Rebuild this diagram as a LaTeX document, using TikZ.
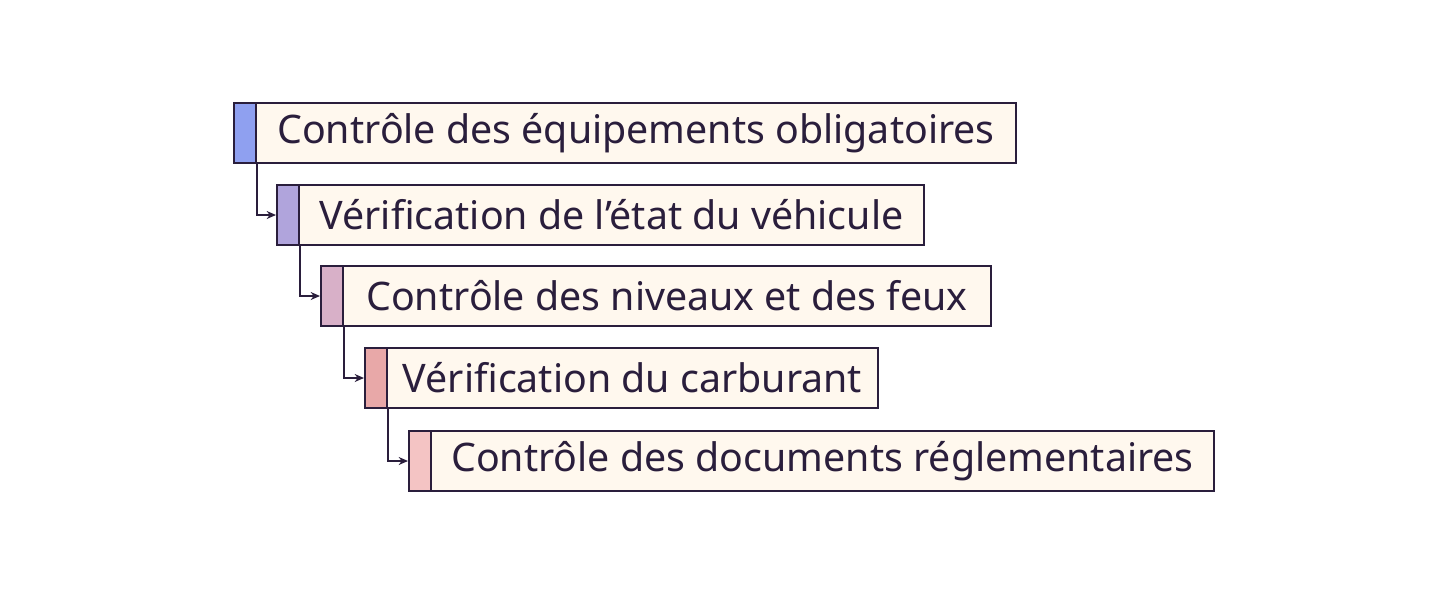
\documentclass[tikz,border=0pt]{standalone}
\usepackage{fontspec}
\setmainfont{Noto Sans}
\usetikzlibrary{positioning,arrows.meta}
\definecolor{ink}{RGB}{42,30,60}
\definecolor{cream}{RGB}{255,248,238}
\definecolor{tabA}{RGB}{143,160,240}
\definecolor{tabB}{RGB}{176,164,220}
\definecolor{tabC}{RGB}{216,176,200}
\definecolor{tabD}{RGB}{232,168,168}
\definecolor{tabE}{RGB}{244,196,196}
\begin{document}
\begin{tikzpicture}[x=0.75pt,y=-0.75pt,
    tab/.style={draw=ink,line width=1.5pt,minimum width=16.5pt,minimum height=45pt,inner sep=0pt},
    label/.style={draw=ink,line width=1.5pt,fill=cream,minimum height=45pt,inner sep=0pt,
      text=ink,font=\fontsize{29.5}{33}\selectfont,right=-1.5pt of #1},
    link/.style={draw=ink,line width=1.1pt,-{Stealth[length=7pt,width=6pt]}}]
  \useasboundingbox (0,0) rectangle (1448,607);
  % the five steps
  \node[tab,fill=tabA] (s1) at (245,133) {};
  \node[label=s1,minimum width=570pt] (c1) {Contrôle des équipements obligatoires};
  \node[tab,fill=tabB] (s2) at (288,215) {};
  \node[label=s2,minimum width=468.75pt] (c2) {Vérification de l’état du véhicule};
  \node[tab,fill=tabC] (s3) at (332,296) {};
  \node[label=s3,minimum width=486pt] (c3) {Contrôle des niveaux et des feux};
  \node[tab,fill=tabD] (s4) at (376,378) {};
  \node[label=s4,minimum width=368.25pt] (c4) {Vérification du carburant};
  \node[tab,fill=tabE] (s5) at (420,461) {};
  \node[label=s5,minimum width=587.25pt] (c5) {Contrôle des documents réglementaires};
  % links
  \draw[link] (s1.south east) |- (s2.west);
  \draw[link] (s2.south east) |- (s3.west);
  \draw[link] (s3.south east) |- (s4.west);
  \draw[link] (s4.south east) |- (s5.west);
\end{tikzpicture}
\end{document}
